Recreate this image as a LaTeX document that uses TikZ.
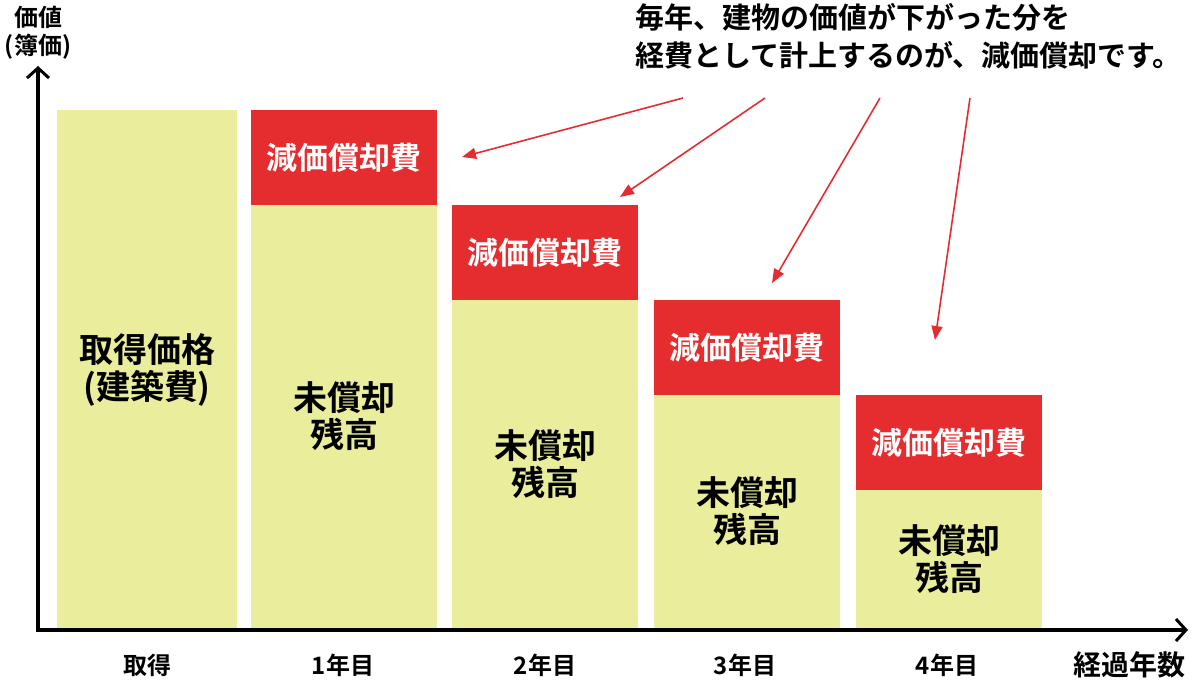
\documentclass[tikz,border=0pt]{standalone}
\usepackage{fontspec}
\setmainfont{Noto Sans CJK JP}[BoldFont={Noto Sans CJK JP Bold}]
\usetikzlibrary{arrows.meta}
\definecolor{rd}{HTML}{E52D2F}
\definecolor{gr}{HTML}{E9ED9C}
\begin{document}
\begin{tikzpicture}[x=1pt,y=-1pt,
 bar/.style={fill=gr,draw=none},
 cost/.style={fill=rd,draw=none},
 wlab/.style={text=white,inner sep=0pt,font=\fontsize{31}{34}\selectfont\bfseries},
 glab/.style={align=center,inner sep=0pt,font=\fontsize{34}{37}\selectfont\bfseries},
 xlab/.style={inner sep=0pt,font=\fontsize{28}{30}\selectfont\bfseries},
 arr/.style={rd,line width=1.6pt,-{Triangle[length=14pt,width=11pt]}}]
\useasboundingbox (0,0) rectangle (1195,681);
\fill[bar] (57,110) rectangle (237,628);
\foreach \x/\t/\i in {251/110/1,452/205/2,654/300/3,856/395/4}{
 \fill[cost] (\x,\t) rectangle ++(186,95);
 \fill[bar] (\x,\t+95) rectangle (\x+186,628);
 \node[wlab] (c\i) at (\x+93,\t+48) {減価償却費};
 \node[glab] (g\i) at (\x+93,{(\t+95+628)/2}) {未償却\\残高};
}
\node[glab] (g0) at (147,370) {取得価格\\(建築費)};
\draw[line width=3.5pt,-{Straight Barb[length=10pt,width=22pt,line width=3pt]}] (38,630) -- (38,66);
\draw[line width=3.5pt,-{Straight Barb[length=10pt,width=22pt,line width=3pt]}] (36,630) -- (1188,630);
\node[xlab,font=\fontsize{24}{26}\selectfont\bfseries] (x0) at (147,665) {取得};
\node[xlab,font=\fontsize{24}{26}\selectfont\bfseries] (x1) at (343,665) {1年目};
\node[xlab,font=\fontsize{24}{26}\selectfont\bfseries] (x2) at (545,665) {2年目};
\node[xlab,font=\fontsize{24}{26}\selectfont\bfseries] (x3) at (745,665) {3年目};
\node[xlab,font=\fontsize{24}{26}\selectfont\bfseries] (x4) at (947,665) {4年目};
\node[xlab] (x5) at (1129,665) {経過年数};
\node[align=center,inner sep=0pt,font=\fontsize{24}{28}\selectfont\bfseries] (yl) at (38,33) {価値\\(簿価)};
\node[align=left,anchor=north west,inner sep=0pt,font=\fontsize{29}{38}\selectfont\bfseries] (note) at (635,3) {毎年、建物の価値が下がった分を\\経費として計上するのが、減価償却です。};
\coordinate (s1) at (683,98); \coordinate (e1) at (462,157);
\coordinate (s2) at (765,98); \coordinate (e2) at (620,197);
\coordinate (s3) at (880,98); \coordinate (e3) at (772,283);
\coordinate (s4) at (970,98); \coordinate (e4) at (935,340);
\foreach \i in {1,2,3,4}{\draw[arr] (s\i) -- (e\i);}
\end{tikzpicture}
\end{document}
